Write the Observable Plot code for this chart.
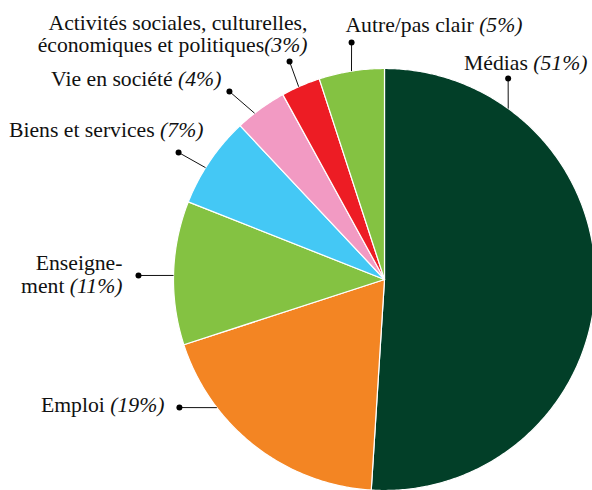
<!DOCTYPE html>
<html>
<head>
<meta charset="utf-8">
<script src="https://cdn.jsdelivr.net/npm/d3@7"></script>
<script src="https://cdn.jsdelivr.net/npm/@observablehq/plot@0.6"></script>
<style>
  html, body { margin: 0; padding: 0; background: #fff; }
</style>
</head>
<body>
<div id="chart"></div>
<script>
// ---- data ----
const categories = ["Médias", "Emploi", "Enseignement", "Biens et services", "Vie en société",
  "Activités sociales, culturelles, économiques et politiques", "Autre/pas clair"];
const shares = [51, 19, 11, 7, 4, 3, 5];
const labels = ["Médias (51%)", "Emploi (19%)", "Enseigne-\nment (11%)", "Biens et services (7%)",
  "Vie en société (4%)", "Activités sociales, culturelles,\néconomiques et politiques(3%)", "Autre/pas clair (5%)"];

// ---- styles & layout (pie radius = 1 unit) ----
const colors = ["#023f28", "#f38523", "#84c242", "#44c8f5", "#f29ac3", "#ed1c24", "#84c242"];
// leader angle (deg, clockwise from top), dot position, label anchor (text end, last baseline)
const leaderAngle = [35.9, 232.6, 271.1, 302, 322, 336, 351];
const dotPos = [[0.586, 0.953], [-0.972, -0.607], [-1.166, 0.019], [-0.976, 0.602], [-0.735, 0.891], [-0.45, 1.033], [-0.156, 1.123]];
const labelPos = [[0.962, 0.995], [-1.043, -0.63], [-1.242, -0.062], [-0.858, 0.673], [-0.773, 0.919], [-0.365, 1.076], [0.654, 1.175]];

const W = 592, H = 490, R = 211, CX = 384, CY = 279;

const pie = d3.pie().sort(null).value(d => d)(shares);
const rad = deg => deg * Math.PI / 180;

const slices = pie.map((p, i) => {
  const pts = [{x: 0, y: 0}];
  const n = Math.max(4, Math.ceil((p.endAngle - p.startAngle) / 0.01));
  for (let k = 0; k <= n; k++) {
    const a = p.startAngle + (p.endAngle - p.startAngle) * k / n;
    pts.push({x: Math.sin(a), y: Math.cos(a)});
  }
  pts.push({x: 0, y: 0});
  return pts;
});

const leaders = categories.map((c, i) => ({
  x1: dotPos[i][0], y1: dotPos[i][1],
  x2: Math.sin(rad(leaderAngle[i])), y2: Math.cos(rad(leaderAngle[i]))
}));
const texts = labels.map((t, i) => ({text: t, x: labelPos[i][0], y: labelPos[i][1]}));

const font = "Liberation Serif";

const chart = Plot.plot({
  width: W, height: H,
  margin: 0,
  style: {background: "white"},
  x: {domain: [-CX / R, (W - CX) / R], axis: null},
  y: {domain: [-(H - CY) / R, CY / R], axis: null},
  marks: [
    ...slices.map((pts, i) => Plot.line(pts, {x: "x", y: "y", fill: colors[i], stroke: "white", strokeWidth: 1.2, curve: "linear"})),
    Plot.link(leaders, {x1: "x1", y1: "y1", x2: "x2", y2: "y2", stroke: "#111", strokeWidth: 1}),
    Plot.dot(leaders, {x: "x1", y: "y1", r: 3, fill: "#000", stroke: null}),
    Plot.text(texts, {x: "x", y: "y", text: "text", textAnchor: "end", lineAnchor: "bottom",
      lineHeight: 1.02, fontSize: 21.7, fontFamily: font, fill: "#111"})
  ]
});

// italicise the percentages
const svgNS = "http://www.w3.org/2000/svg";
chart.querySelectorAll("text").forEach(t => {
  const walker = document.createTreeWalker(t, NodeFilter.SHOW_TEXT);
  const nodes = [];
  while (walker.nextNode()) nodes.push(walker.currentNode);
  nodes.forEach(n => {
    const m = n.nodeValue.match(/^(.*?)(\(\d+%\))$/);
    if (m) {
      n.nodeValue = m[1];
      const ts = document.createElementNS(svgNS, "tspan");
      ts.setAttribute("font-style", "italic");
      ts.textContent = m[2];
      n.parentNode.insertBefore(ts, n.nextSibling);
    }
  });
});

document.getElementById("chart").appendChild(chart);
</script>
</body>
</html>
